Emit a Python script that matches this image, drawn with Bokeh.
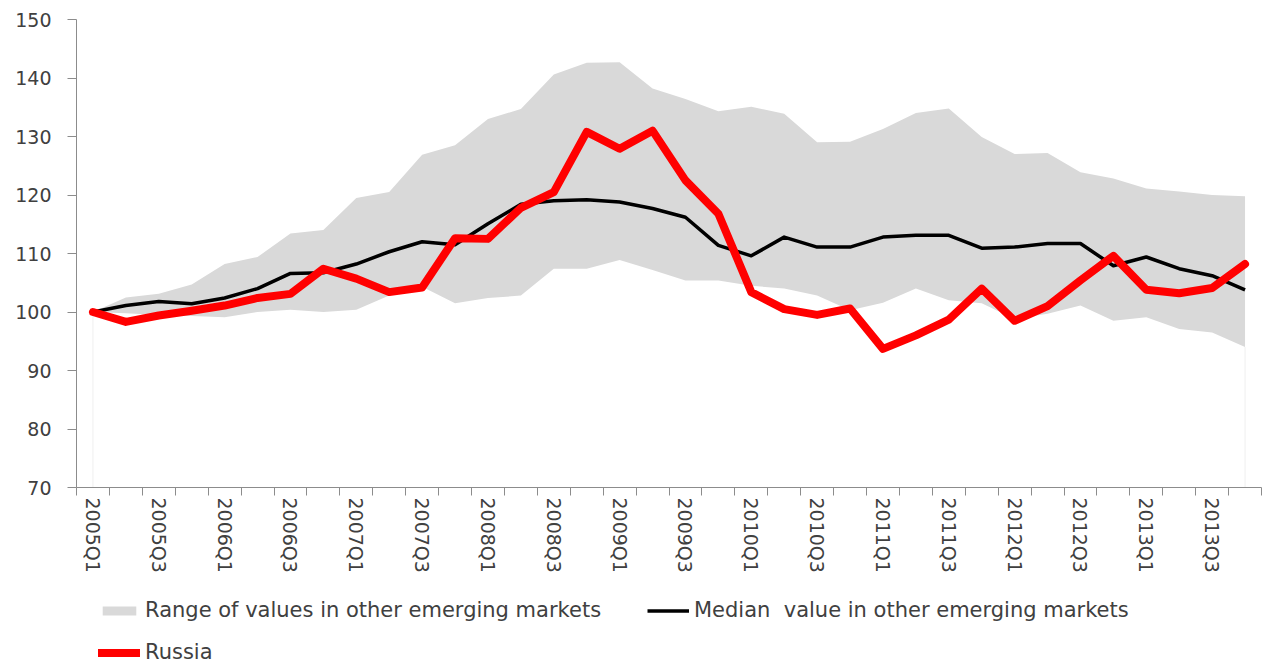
import math
from bokeh.plotting import figure
from bokeh.layouts import column
from bokeh.models import ColumnDataSource, Range1d, FixedTicker, Legend, LegendItem
from bokeh.embed import file_html
from bokeh.resources import INLINE

quarters = ["2005Q1", "2005Q2", "2005Q3", "2005Q4",
            "2006Q1", "2006Q2", "2006Q3", "2006Q4",
            "2007Q1", "2007Q2", "2007Q3", "2007Q4",
            "2008Q1", "2008Q2", "2008Q3", "2008Q4",
            "2009Q1", "2009Q2", "2009Q3", "2009Q4",
            "2010Q1", "2010Q2", "2010Q3", "2010Q4",
            "2011Q1", "2011Q2", "2011Q3", "2011Q4",
            "2012Q1", "2012Q2", "2012Q3", "2012Q4",
            "2013Q1", "2013Q2", "2013Q3", "2013Q4"]

russia = [100.0, 98.3, 99.4, 100.2,
          101.1, 102.4, 103.1, 107.4,
          105.7, 103.4, 104.2, 112.6,
          112.5, 117.8, 120.5, 130.8,
          127.9, 131.0, 122.5, 116.8,
          103.4, 100.5, 99.5, 100.6,
          93.7, 96.0, 98.7, 104.0,
          98.5, 101.0, 105.4, 109.6,
          103.8, 103.2, 104.1, 108.2]

median = [100.0, 101.1, 101.8, 101.4,
          102.4, 104.0, 106.6, 106.7,
          108.2, 110.3, 112.0, 111.5,
          115.1, 118.4, 119.0, 119.2,
          118.8, 117.7, 116.2, 111.4,
          109.6, 112.8, 111.1, 111.1,
          112.8, 113.1, 113.1, 110.9,
          111.1, 111.7, 111.7, 107.9,
          109.4, 107.4, 106.2, 103.8]

upper = [100.0, 102.5, 103.1, 104.7,
         108.2, 109.4, 113.4, 114.0,
         119.5, 120.5, 126.9, 128.5,
         133.0, 134.7, 140.6, 142.6,
         142.7, 138.2, 136.4, 134.3,
         135.1, 133.9, 129.0, 129.1,
         131.3, 134.0, 134.8, 129.9,
         127.0, 127.2, 123.9, 122.8,
         121.1, 120.6, 120.0, 119.8]

lower = [100.0, 99.8, 99.5, 99.3,
         99.1, 100.0, 100.4, 100.0,
         100.4, 102.8, 104.3, 101.5,
         102.4, 102.8, 107.4, 107.4,
         108.9, 107.2, 105.4, 105.4,
         104.5, 104.0, 102.8, 100.3,
         101.6, 104.0, 102.0, 101.5,
         98.8, 99.7, 101.1, 98.5,
         99.1, 97.1, 96.5, 94.0]

y_ticks = [70, 80, 90, 100, 110, 120, 130, 140, 150]

legend_labels = ["Range of values in other emerging markets",
                 "Median  value in other emerging markets",
                 "Russia"]

label_step = 2
idx = list(range(len(quarters)))
src = ColumnDataSource(dict(x=idx, q=quarters, russia=russia, median=median,
                            upper=upper, lower=lower))

FONT = "DejaVu Sans"
TXT = "#404040"
AX = "#8c8c8c"
AREA = "#d9d9d9"
RED = "#ff0000"

p = figure(width=1270, height=596, output_backend="svg", toolbar_location=None,
           x_range=Range1d(-0.5, len(quarters) - 0.5),
           y_range=Range1d(y_ticks[0], y_ticks[-1]),
           min_border_left=76, min_border_right=9, min_border_top=19,
           min_border_bottom=109)
p.outline_line_color = None
p.xgrid.visible = False
p.ygrid.visible = False

# faint edges of the base area (as in the original spreadsheet chart)
p.segment(x0=[idx[0], idx[-1]], y0=[y_ticks[0], y_ticks[0]],
          x1=[idx[0], idx[-1]], y1=[lower[0], lower[-1]],
          line_color="#efefef", line_width=1)

p.varea(x="x", y1="lower", y2="upper", source=src, fill_color=AREA)
p.line("x", "median", source=src, line_color="black", line_width=3.5,
       line_join="round")
p.line("x", "russia", source=src, line_color=RED, line_width=8,
       line_join="round", line_cap="round")

xa = p.xaxis[0]
xa.ticker = FixedTicker(ticks=idx[::label_step],
                        minor_ticks=[i - 0.5 for i in range(len(quarters) + 1)])
xa.major_label_overrides = {i: quarters[i] for i in idx[::label_step]}
xa.major_label_orientation = -math.pi / 2
xa.major_tick_out = 0
xa.major_tick_in = 0
xa.minor_tick_out = 8
xa.minor_tick_in = 0
xa.minor_tick_line_color = AX
xa.axis_line_color = AX
xa.major_label_standoff = 2
xa.major_label_text_font = FONT
xa.major_label_text_font_size = "19px"
xa.major_label_text_color = TXT

ya = p.yaxis[0]
ya.ticker = FixedTicker(ticks=y_ticks, minor_ticks=[])
ya.major_tick_out = 9
ya.major_tick_in = 0
ya.major_tick_line_color = AX
ya.axis_line_color = AX
ya.major_label_standoff = 16
ya.major_label_text_font = FONT
ya.major_label_text_font_size = "19px"
ya.major_label_text_color = TXT

# legend strip below the chart (its renderers use the same data, kept out of view)
pl = figure(width=1270, height=68, output_backend="svg", toolbar_location=None,
            x_range=Range1d(-0.5, len(quarters) - 0.5), y_range=Range1d(0, 1),
            min_border_left=0, min_border_right=0, min_border_top=0,
            min_border_bottom=0, x_axis_type=None, y_axis_type=None)
pl.outline_line_color = None
pl.xgrid.visible = False
pl.ygrid.visible = False
l_area = pl.varea(x="x", y1="lower", y2="upper", source=src, fill_color=AREA)
l_med = pl.line("x", "median", source=src, line_color="black", line_width=3.5)
l_rus = pl.line("x", "russia", source=src, line_color=RED, line_width=8,
                line_cap="round")

leg = Legend(items=[
    LegendItem(label=legend_labels[0], renderers=[l_area]),
    LegendItem(label=legend_labels[1], renderers=[l_med]),
    LegendItem(label=legend_labels[2], renderers=[l_rus]),
], orientation="horizontal", ncols=2, location=(22, 0))
leg.border_line_color = None
leg.background_fill_alpha = 0
leg.padding = 0
leg.margin = 0
leg.spacing = 18
leg.label_standoff = 5
leg.glyph_width = 42
leg.glyph_height = 11
leg.label_height = 22
leg.label_width = 484
leg.label_text_font = FONT
leg.label_text_font_size = "21px"
leg.label_text_color = TXT
leg.label_text_baseline = "middle"
pl.add_layout(leg, "center")

open("out.html", "w").write(file_html(column(p, pl, spacing=0), INLINE))
